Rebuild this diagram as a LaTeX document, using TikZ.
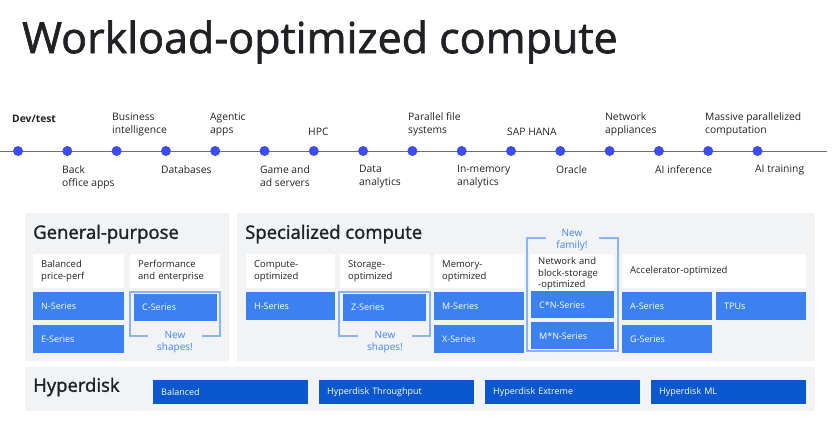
\documentclass[tikz,border=0pt]{standalone}
\usepackage{fontspec}
\setmainfont{Open Sans}
\newfontfamily\titlefont{Open Sans}[FakeBold=1.5]
\usetikzlibrary{positioning}
\definecolor{panelGray}{RGB}{241,243,244}
\definecolor{seriesBlue}{RGB}{59,130,240}
\definecolor{diskBlue}{RGB}{11,87,208}
\definecolor{dotBlue}{RGB}{60,76,240}
\definecolor{lineGray}{RGB}{110,110,120}
\definecolor{bracketBlue}{RGB}{138,180,248}
\definecolor{noteBlue}{RGB}{66,133,244}
\definecolor{inkGray}{RGB}{32,33,36}
\begin{document}
\begin{tikzpicture}[x=1pt,y=-1pt,
    panel/.style={fill=panelGray,draw=none},
    heading/.style={anchor=west,font=\titlefont\fontsize{18.5}{20}\selectfont,text=inkGray,inner sep=0pt},
    hdr/.style={anchor=north west,fill=white,minimum height=34pt,text width=#1,inner xsep=8pt,
                align=left,font=\fontsize{9.5}{11.5}\selectfont,text=inkGray},
    series/.style={anchor=north west,fill=seriesBlue,minimum height=28pt,text width=#1,inner xsep=8pt,
                   align=left,font=\fontsize{9}{11}\selectfont,text=white},
    disk/.style={anchor=north west,fill=diskBlue,minimum height=24pt,text width=139pt,inner xsep=8pt,
                 align=left,font=\fontsize{9}{11}\selectfont,text=white},
    dot/.style={circle,fill=dotBlue,minimum size=10pt,inner sep=0pt},
    up/.style={anchor=south west,align=left,font=\fontsize{10.3}{13}\selectfont,text=inkGray,inner sep=0pt},
    down/.style={anchor=north west,align=left,font=\fontsize{10.3}{13}\selectfont,text=inkGray,inner sep=0pt},
    note/.style={align=center,font=\fontsize{10}{12}\selectfont,text=noteBlue,inner sep=0pt},
    bracket/.style={draw=bracketBlue,line width=1.2pt}
  ]
  \useasboundingbox (0,0) rectangle (837,433);

  % title
  \node[anchor=west,inner sep=0pt,font=\titlefont\fontsize{43}{46}\selectfont,text=inkGray] (title) at (22,42) {Workload-optimized compute};

  % timeline
  \coordinate (tl) at (0,151);
  \coordinate (tr) at (827,151);
  \draw[lineGray,line width=1pt] (tl) -- (tr);
  \foreach \i in {0,...,15}
    \node[dot] (d\i) at (18+\i*49.3,151) {};

  \node[up,font=\fontsize{10.3}{13}\selectfont\bfseries] (l0) at (12,123) {Dev/test};
  \node[up] (l2) at (112,136) {Business\\intelligence};
  \node[up] (l4) at (210,136) {Agentic\\apps};
  \node[up] (l6) at (308,136) {HPC};
  \node[up] (l8) at (408,136) {Parallel file\\systems};
  \node[up] (l10) at (507,136) {SAP HANA};
  \node[up] (l12) at (605,136) {Network\\appliances};
  \node[up] (l14) at (705,136) {Massive parallelized\\computation};

  \node[down] (l1) at (62,165) {Back\\office apps};
  \node[down] (l3) at (161,165) {Databases};
  \node[down] (l5) at (260,165) {Game and\\ad servers};
  \node[down] (l7) at (359,165) {Data\\analytics};
  \node[down] (l9) at (457,165) {In-memory\\analytics};
  \node[down] (l11) at (556,165) {Oracle};
  \node[down] (l13) at (655,165) {AI inference};
  \node[down] (l15) at (755,165) {AI training};

  % panels
  \fill[panel] (25,213) rectangle (229,361);
  \fill[panel] (237,213) rectangle (815,361);
  \fill[panel] (25,367) rectangle (815,411);
  \node[heading] (gp) at (33,234) {General-purpose};
  \node[heading] (sc) at (245,234) {Specialized compute};
  \node[heading] (hd) at (33,387) {Hyperdisk};

  % headers
  \node[hdr=75pt] (balanced) at (33,254) {Balanced\\price-perf};
  \node[hdr=74pt] (perf) at (130,254) {Performance\\and enterprise};
  \node[hdr=73pt] (compute) at (246,254) {Compute-\\optimized};
  \node[hdr=74pt] (storage) at (340,254) {Storage-\\optimized};
  \node[hdr=74pt] (memory) at (434,254) {Memory-\\optimized};
  \node[hdr=68pt,inner xsep=8pt] (network) at (530,254) {Network and\\block-storage\\-optimized};
  \node[hdr=168pt] (accel) at (622,254) {Accelerator-optimized};

  % series row 1
  \node[series=75pt] (n) at (33,292) {N-Series};
  \node[series=67pt,minimum height=27pt] (c) at (134,294) {C-Series};
  \node[series=73pt] (h) at (246,292) {H-Series};
  \node[series=67pt,minimum height=27pt] (z) at (343,294) {Z-Series};
  \node[series=74pt] (m) at (434,292) {M-Series};
  \node[series=67pt,minimum height=27pt] (cn) at (531,291) {C*N-Series};
  \node[series=74pt] (a) at (622,292) {A-Series};
  \node[series=74pt] (tpu) at (716,292) {TPUs};
  % series row 2
  \node[series=75pt] (e) at (33,325) {E-Series};
  \node[series=74pt] (x) at (434,325) {X-Series};
  \node[series=67pt,minimum height=27pt] (mn) at (531,322) {M*N-Series};
  \node[series=74pt] (g) at (622,325) {G-Series};

  % brackets
  \draw[bracket] (148,336) -| (130,292) -| (220,336) -- (202,336);
  \node[note] (cnew) at (175,342) {New\\shapes!};
  \draw[bracket] (358,336) -| (339,292) -| (430,336) -- (412,336);
  \node[note] (znew) at (385,342) {New\\shapes!};
  \draw[bracket] (546,238) -| (527,351) -| (618,238) -- (599,238);
  \node[note] (cnnew) at (572,240) {New\\family!};

  % hyperdisk
  \node[disk] (hb) at (153,380) {Balanced};
  \node[disk] (ht) at (319,380) {Hyperdisk Throughput};
  \node[disk] (he) at (485,380) {Hyperdisk Extreme};
  \node[disk] (hml) at (651,380) {Hyperdisk ML};
\end{tikzpicture}
\end{document}
